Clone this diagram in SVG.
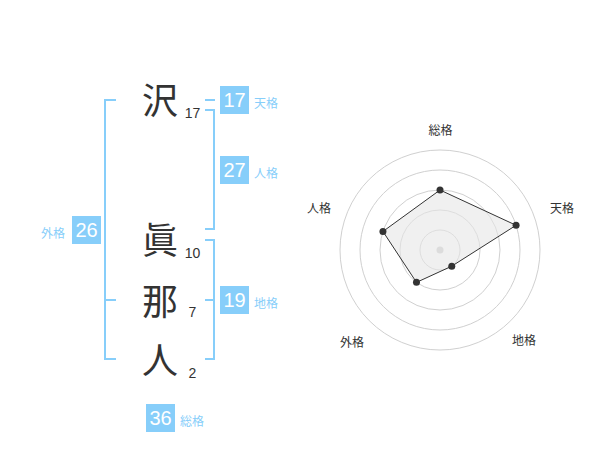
<svg xmlns="http://www.w3.org/2000/svg" width="600" height="470" viewBox="0 0 600 470">
<style>
.ch{font-family:"Noto Sans CJK JP","Noto Sans",sans-serif;font-size:36px;fill:#333;text-anchor:middle}
.st{font-family:"Liberation Sans",Arial,sans-serif;font-size:14px;fill:#333;text-anchor:middle}
.box{fill:#87cefa}
.bn{font-family:"Liberation Sans",Arial,sans-serif;font-size:20px;fill:#fff;text-anchor:middle}
.bl{font-family:"Noto Sans CJK JP",sans-serif;font-size:12px;fill:#87cefa}
.br{fill:none;stroke:#87cefa;stroke-width:2}
.grid{fill:none;stroke:#d0d0d0;stroke-width:1}
.rl{font-family:"Noto Sans CJK JP",sans-serif;font-size:12px;fill:#333;text-anchor:middle}
.pt{fill:#333}
</style>
<rect width="600" height="470" fill="#fff"/>
<g id="connectors">
<path class="br" d="M116,100 H105 V359 H116 M105,300 H116"/>
<path class="br" d="M205,100 H215"/>
<path class="br" d="M205,110 H214 V229 H205"/>
<path class="br" d="M205,240 H214 V359 H205 M214,300 H205"/>
</g>
<g id="char-1"><text class="ch" x="160" y="114">沢</text><text class="st" x="192.5" y="118">17</text></g>
<g id="char-2"><text class="ch" x="160" y="254">眞</text><text class="st" x="192.5" y="258">10</text></g>
<g id="char-3"><text class="ch" x="160" y="315">那</text><text class="st" x="192.5" y="317">7</text></g>
<g id="char-4"><text class="ch" x="160" y="374">人</text><text class="st" x="192.5" y="378">2</text></g>
<g id="tenkaku"><rect class="box" x="220" y="86" width="29" height="28"/><text class="bn" x="234.5" y="107">17</text><text class="bl" x="254" y="108">天格</text></g>
<g id="jinkaku"><rect class="box" x="220" y="156" width="29" height="28"/><text class="bn" x="234.5" y="177">27</text><text class="bl" x="254" y="178">人格</text></g>
<g id="gaikaku"><rect class="box" x="72" y="216" width="29" height="28"/><text class="bn" x="86.5" y="237">26</text><text class="bl" x="41" y="238">外格</text></g>
<g id="chikaku"><rect class="box" x="220" y="286" width="29" height="28"/><text class="bn" x="234.5" y="307">19</text><text class="bl" x="254" y="308">地格</text></g>
<g id="soukaku"><rect class="box" x="146" y="404" width="29" height="28"/><text class="bn" x="160.5" y="425">36</text><text class="bl" x="180" y="426">総格</text></g>
<g id="radar">
<circle class="grid" cx="440" cy="250" r="20"/>
<circle class="grid" cx="440" cy="250" r="40"/>
<circle class="grid" cx="440" cy="250" r="60"/>
<circle class="grid" cx="440" cy="250" r="80"/>
<circle class="grid" cx="440" cy="250" r="100"/>
<circle cx="440" cy="250" r="3.5" fill="#ccc"/>
<polygon points="440,190 516.08,225.28 451.76,266.18 416.49,282.36 382.94,231.46" fill="#e6e6e6" fill-opacity="0.6" stroke="#333" stroke-width="1"/>
<circle class="pt" cx="440" cy="190" r="3.5"/>
<circle class="pt" cx="516.08" cy="225.28" r="3.5"/>
<circle class="pt" cx="451.76" cy="266.18" r="3.5"/>
<circle class="pt" cx="416.49" cy="282.36" r="3.5"/>
<circle class="pt" cx="382.94" cy="231.46" r="3.5"/>
<text class="rl" x="440.5" y="135">総格</text>
<text class="rl" x="562" y="213">天格</text>
<text class="rl" x="524" y="345">地格</text>
<text class="rl" x="352" y="347">外格</text>
<text class="rl" x="319" y="213">人格</text>
</g>
</svg>
